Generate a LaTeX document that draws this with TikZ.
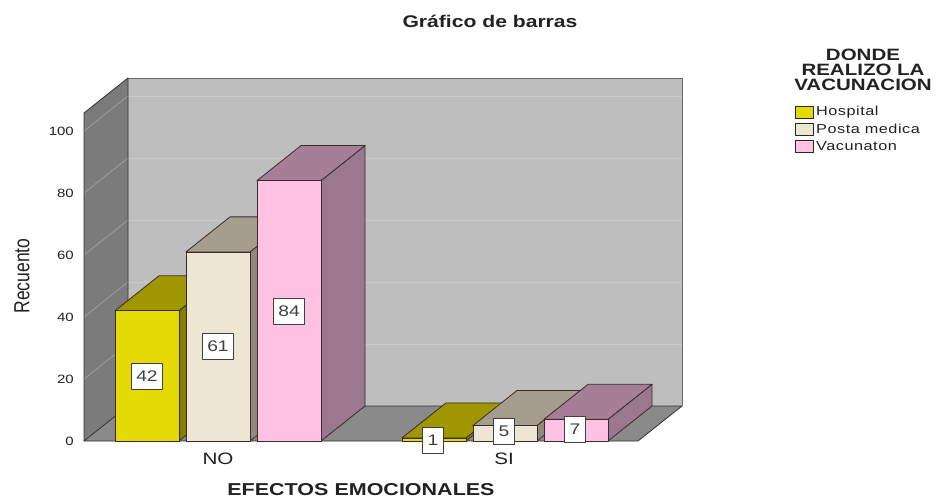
\documentclass[tikz,border=0pt]{standalone}
\usepackage{fontspec}
\usepackage{graphicx}
\setmainfont{Liberation Sans}
\newfontfamily\cf{Liberation Sans}[FakeStretch=1.25]
\newfontfamily\lf{Liberation Sans}[FakeStretch=1.25,LetterSpace=4]
\newcommand\chfs[1]{\fontsize{#1}{#1}\selectfont}
\definecolor{backwall}{HTML}{BEBEBE}
\definecolor{leftwall}{HTML}{7B7B7B}
\definecolor{floorc}{HTML}{8A8A8A}
\definecolor{gridback}{HTML}{CACACA}
\definecolor{gridleft}{HTML}{9C9C9C}
\definecolor{barline}{HTML}{3A2A30}
\definecolor{hospF}{HTML}{E6DA06}
\definecolor{hospT}{HTML}{9E9700}
\definecolor{hospS}{HTML}{857F00}
\definecolor{postF}{HTML}{EDE6D2}
\definecolor{postT}{HTML}{A59E8E}
\definecolor{postS}{HTML}{918A7C}
\definecolor{vacF}{HTML}{FFC2E2}
\definecolor{vacT}{HTML}{A77E98}
\definecolor{vacS}{HTML}{9C788F}
\definecolor{txt}{HTML}{222222}
\newcommand\drawbar[5]{%
  \pgfmathsetmacro\bt{441-3.1*#2}%
  \filldraw[barfill, fill=#5] (#1+64,\bt) -- ++(44,-35) -- (#1+108,406) -- (#1+64,441) -- cycle;
  \filldraw[barfill, fill=#4] (#1,\bt) -- ++(44,-35) -- ++(64,0) -- (#1+64,\bt) -- cycle;
  \filldraw[barfill, fill=#3] (#1,\bt) rectangle (#1+64,441);
}
\begin{document}
\begin{tikzpicture}[x=1pt,y=-1pt,line join=round,
  barfill/.style={draw=barline,line width=0.8pt},
  vallabel/.style={draw=black!75,line width=1pt,fill=white,text=black!75,
    font=\cf\chfs{15.4},inner xsep=5pt,inner ysep=0pt,minimum height=26pt},
  ticklab/.style={anchor=east,text=txt,font=\cf\chfs{12},inner sep=0pt},
  swatch/.style={draw=black!85,line width=0.8pt,minimum width=18pt,minimum height=12pt,inner sep=0pt},
  legtext/.style={anchor=west,text=txt,font=\lf\chfs{13},inner sep=0pt}]
\useasboundingbox (0,0) rectangle (940,500);
\fill[white] (0,0) rectangle (940,500);
% walls
\fill[backwall] (128,78) rectangle (682,406);
\fill[leftwall] (84,441) -- (84,113) -- (128,78) -- (128,406) -- cycle;
\foreach \v in {20,40,...,100} {
  \draw[gridback,line width=0.9pt] (128,406-3.1*\v) -- (682,406-3.1*\v);
  \draw[gridleft,line width=0.9pt] (84,441-3.1*\v) -- (128,406-3.1*\v);
}
\draw[black!80,line width=0.8pt] (84,441) -- (84,113) -- (128,78) -- (128,406);
\draw[black!60,line width=0.8pt] (128,78) -- (682,78) -- (682,406);
% floor
\filldraw[floorc,draw=black!80,line width=0.8pt] (84,441) -- (638,441) -- (682,406) -- (128,406) -- cycle;
% bars NO
\drawbar{115}{42}{hospF}{hospT}{hospS}
\drawbar{186}{61}{postF}{postT}{postS}
\drawbar{257}{84}{vacF}{vacT}{vacS}
% bars SI
\drawbar{402}{1}{hospF}{hospT}{hospS}
\drawbar{473}{5}{postF}{postT}{postS}
\drawbar{544}{7}{vacF}{vacT}{vacS}
% value labels
\node[vallabel] (l42) at (147,376) {42};
\node[vallabel] (l61) at (218,346) {61};
\node[vallabel] (l84) at (289,311) {84};
\node[vallabel] (l1) at (433,440) {1};
\node[vallabel] (l5) at (504,431) {5};
\node[vallabel] (l7) at (575,429) {7};
% ticks
\foreach \v in {0,20,...,100} {
  \node[ticklab] (t\v) at (74,441-3.1*\v) {\v};
}
% axis texts
\node[text=txt,font=\cf\chfs{16.5},inner sep=0pt] (no) at (218,459) {NO};
\node[text=txt,font=\cf\chfs{16.5},inner sep=0pt] (si) at (504,459) {SI};
\node[text=txt,font=\cf\bfseries\chfs{17.2},inner sep=0pt] (xtitle) at (361,490) {EFECTOS EMOCIONALES};
\node[text=txt,font=\chfs{17.5},inner sep=0pt,rotate=90] (ytitle) at (22,276) {\scalebox{1}[1.25]{Recuento}};
\node[text=txt,font=\cf\bfseries\chfs{16.9},inner sep=0pt] (title) at (490,21) {Gráfico de barras};
% legend
\node[text=txt,font=\cf\bfseries\chfs{16.4},align=center,inner sep=0pt] (legtitle) at (863,70)
  {DONDE\\[-1.5pt]REALIZO LA\\[-1.5pt]VACUNACION};
\node[swatch,fill=hospF] (s1) at (804,112) {};
\node[swatch,fill=postF] (s2) at (804,129) {};
\node[swatch,fill=vacF] (s3) at (804,146) {};
\node[legtext] (h1) at (816,112) {Hospital};
\node[legtext] (h2) at (816,129) {Posta medica};
\node[legtext] (h3) at (816,146) {Vacunaton};
\end{tikzpicture}
\end{document}
